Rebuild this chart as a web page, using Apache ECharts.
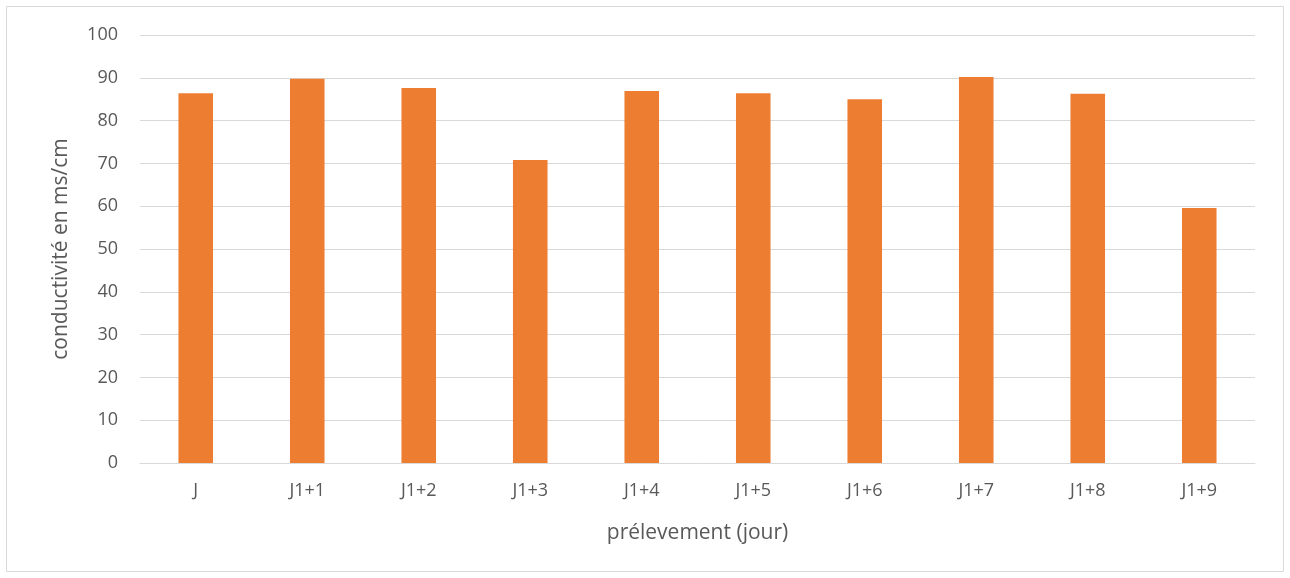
<!DOCTYPE html>
<html>
<head>
<meta charset="utf-8">
<script src="https://cdn.jsdelivr.net/npm/echarts@6/dist/echarts.min.js"></script>
<style>
  html, body { margin: 0; padding: 0; background: #fff; }
  #chart { width: 1290px; height: 578px; }
</style>
</head>
<body>
<div id="chart"></div>
<script>
// Sampling days and measured conductivity (ms/cm)
const categories = ['J', 'J1+1', 'J1+2', 'J1+3', 'J1+4', 'J1+5', 'J1+6', 'J1+7', 'J1+8', 'J1+9'];
const conductivity = [86.4, 89.8, 87.6, 70.8, 86.9, 86.4, 85.0, 90.2, 86.3, 59.6];
const yTicks = { min: 0, max: 100, interval: 10 };
const xAxisTitle = 'prélevement (jour)';
const yAxisTitle = 'conductivité en ms/cm';

const textColor = '#595959';
const fontFamily = '"Open Sans", "Noto Sans", sans-serif';

const chart = echarts.init(document.getElementById('chart'), null, { renderer: 'canvas' });
chart.setOption({
  animation: false,
  backgroundColor: '#fff',
  graphic: [{
    type: 'rect',
    shape: { x: 6.5, y: 6.5, width: 1277, height: 565 },
    style: { fill: 'none', stroke: '#d9d9d9', lineWidth: 1 },
    silent: true
  }],
  grid: { left: 140, right: 35, top: 35, bottom: 115 },
  xAxis: {
    type: 'category',
    data: categories,
    name: xAxisTitle,
    nameLocation: 'middle',
    nameGap: 60,
    nameTextStyle: { color: textColor, fontSize: 21, fontFamily },
    axisLine: { show: true, lineStyle: { color: '#d9d9d9', width: 1 } },
    axisTick: { show: false },
    axisLabel: { color: textColor, fontSize: 18, fontFamily, margin: 19 }
  },
  yAxis: {
    type: 'value',
    min: yTicks.min,
    max: yTicks.max,
    interval: yTicks.interval,
    name: yAxisTitle,
    nameLocation: 'middle',
    nameGap: 68,
    nameRotate: 90,
    nameTextStyle: { color: textColor, fontSize: 21, fontFamily },
    axisLine: { show: false },
    axisTick: { show: false },
    axisLabel: { color: textColor, fontSize: 18, fontFamily, margin: 22 },
    splitLine: { lineStyle: { color: '#d9d9d9', width: 1 } }
  },
  series: [{
    type: 'bar',
    data: conductivity,
    barWidth: '31%',
    itemStyle: { color: '#ED7D31' }
  }]
});
</script>
</body>
</html>
